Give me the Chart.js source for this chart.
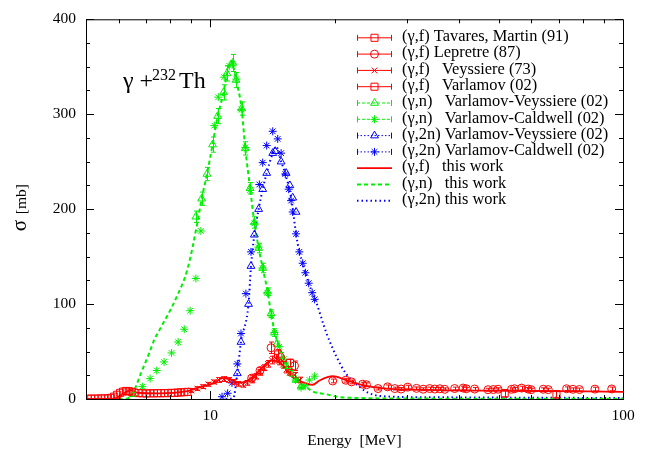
<!DOCTYPE html>
<html>
<head>
<meta charset="utf-8">
<script src="https://cdn.jsdelivr.net/npm/chart.js@4.4.1/dist/chart.umd.min.js"></script>
<style>
  html, body { margin: 0; padding: 0; background: #fff; }
  #wrap { width: 650px; height: 450px; }
</style>
</head>
<body>
<div id="wrap"><canvas id="xsChart" width="650" height="450"></canvas></div>
<script>
// ---- measured data: photon energy (MeV), cross section (mb), error (mb) ----
const tavaresE   = [14.6, 15.6, 51.7, 69.0];
const tavaresXS  = [47, 38, 6, 5];
const tavaresErr = [5, 4, 4, 4];

const lepretreE  = [12.6, 13.2, 14.04, 14.8, 16.0, 19.8, 21.3, 22.0, 23.4, 23.9, 25.5, 26.9, 28.0, 29.0, 30.1,
                    31.6, 32.8, 34.0, 35.0, 36.0, 37.0, 39.1, 41.0, 41.7, 43.7, 47.1, 48.5, 49.8, 53.7, 54.6,
                    56.8, 58.9, 59.9, 64.1, 65.9, 73.0, 75.6, 78.4, 85.5, 93.9];
const lepretreXS = [22, 30, 54, 44, 35, 19, 19.8, 18, 15.6, 15, 11, 12.8, 11, 10.5, 12.5,
                    11.2, 10.3, 11, 10.5, 10.8, 10.2, 11, 11.5, 10.8, 10.5, 9.8, 10, 10.3, 10.2, 10.8,
                    11.5, 10.5, 9.8, 10.3, 9.9, 10.8, 10.2, 10, 10.4, 10.6];
const lepretreErr = [3, 3, 6, 5, 5, 2, 2, 2, 2, 2, 1.5, 2, 1.5, 1.5, 2,
                     1.5, 1.5, 1.5, 1.5, 1.5, 1.5, 1.5, 2, 1.5, 1.5, 1.5, 1.5, 1.5, 1.5, 1.5,
                     2, 1.5, 1.5, 1.5, 1.5, 2, 1.5, 1.5, 2, 2];

const veyssiereE  = [9.0, 9.3, 9.6, 9.9, 10.2, 10.5, 10.8, 11.1, 11.4, 11.7, 12.0, 12.3, 12.6, 12.9, 13.2,
                     13.5, 13.8, 14.1, 14.4, 14.7, 15.0, 15.3, 15.6, 16.0, 16.5];
const veyssiereXS = [9, 11, 13, 15.5, 18, 20, 21, 20, 18, 16, 15, 17, 20, 24, 28,
                     33, 37, 41, 43, 40, 36, 31, 28, 25, 20];
const veyssiereErr = [2, 2, 2, 2, 2, 2.5, 2.5, 2.5, 2.5, 2.5, 2.5, 2.5, 3, 3, 3,
                      3, 3.5, 4, 4, 4, 3.5, 3.5, 3, 3, 3];

const varlamovFE  = [5.05, 5.15, 5.25, 5.35, 5.45, 5.55, 5.65, 5.75, 5.85, 5.95, 6.05, 6.15, 6.25, 6.35, 6.45,
                     6.55, 6.7, 6.85, 7.0, 7.15, 7.3, 7.45, 7.6, 7.75, 7.9, 8.05, 8.2, 8.35, 8.5, 8.65, 8.8];
const varlamovFXS = [0.3, 0.4, 0.3, 0.5, 0.6, 0.5, 0.8, 1.2, 2.5, 4.5, 6.5, 7.8, 8.5, 8.2, 7.5,
                     6.8, 6.2, 6.0, 5.8, 6.1, 5.9, 6.2, 6.0, 6.3, 6.1, 6.5, 6.4, 6.8, 7.0, 7.2, 7.5];

const gnVeyE  = [6.5, 9.23, 9.53, 9.82, 10.13, 10.42, 10.77, 10.98, 11.33, 11.55, 11.91, 12.16, 12.49, 12.79, 13.10,
                 13.40, 13.77, 14.04, 14.30, 14.50, 14.85, 15.27, 15.70, 16.14, 16.60];
const gnVeyXS = [5, 192, 211, 237, 268, 298, 323, 343, 354, 336, 306, 264, 222, 186, 159,
                 138, 113, 90, 70, 58, 46, 35, 27, 20, 13];
const gnVeyErr = [2, 6, 7, 7, 8, 8, 8, 8, 9, 8, 7, 7, 6, 6, 5,
                  5, 4, 4, 4, 3, 3, 3, 3, 2, 2];

const gnCalE  = [6.85, 7.15, 7.42, 7.73, 8.06, 8.36, 8.65, 8.94, 9.23, 9.49, 10.23, 10.46, 10.81, 11.12, 11.33,
                 11.57, 11.89, 12.16, 12.49, 12.79, 13.08, 13.38, 13.75, 14.04, 14.3, 14.7, 15.1, 15.6, 16.1, 16.6,
                 17.0, 17.4, 17.9];
const gnCalXS = [13, 21.5, 30, 39, 48.5, 60, 73.5, 93, 127, 177, 288, 318, 339, 351, 353,
                 337, 305, 265, 220, 185, 160, 138, 112, 88, 70, 55, 42, 30, 20, 12,
                 14, 20, 24];

const g2nVeyE  = [11.63, 11.87, 12.38, 12.55, 12.79, 13.10, 13.40, 13.70, 14.17, 14.37, 14.85, 15.27, 15.59, 15.84, 16.14];
const g2nVeyXS = [27, 60, 100, 140, 173, 200, 221, 238, 259, 261, 250, 238, 225, 212, 197];

const g2nCalE  = [10.68, 11.02, 11.29, 11.63, 11.87, 12.2, 12.55, 13.15, 13.40, 13.70, 14.17, 14.57, 14.85, 15.2, 15.49,
                  15.70, 15.84, 16.14, 16.44, 16.75, 17.0, 17.32, 17.66, 17.9];
const g2nCalXS = [2.4, 6, 17, 37, 69, 111, 155, 226, 249, 267, 282, 274, 259, 237, 221,
                  209, 197, 174, 155, 143, 133, 122, 112, 105];

// ---- calculated curves ("this work") ----
const fitFE  = [5, 5.85, 6.18, 6.42, 6.66, 7.52, 8.73, 8.98, 9.49, 10.23, 10.71, 11.2, 11.76, 12.67, 13.40,
                14.04, 14.85, 15.84, 17.23, 17.7, 18.39, 19.8, 21.3, 23, 26, 36, 52.2, 100];
const fitFXS = [0, 0.5, 6, 9.4, 6.6, 6, 8, 9.4, 12.8, 17, 22, 20.5, 17, 23, 33.6,
                40.6, 37, 23, 16, 15, 19.5, 24, 20, 15.5, 11.5, 9.4, 8.7, 7.6];

const fitNE  = [6.0, 6.30, 6.54, 6.79, 7.11, 7.31, 7.52, 8.26, 8.81, 9.31, 9.53, 9.82, 10.13, 10.42, 10.77,
                10.98, 11.24, 11.55, 11.91, 12.16, 12.49, 12.79, 13.10, 13.40, 13.77, 14.04, 14.30, 14.70, 15.27, 15.84,
                17.07, 17.7, 19.1, 20.2, 23, 30, 50, 100];
const fitNXS = [0, 0.5, 9, 27, 48, 62, 72, 106, 137, 186, 211, 237, 268, 298, 323,
                343, 356, 336, 306, 264, 222, 186, 159, 138, 113, 90, 72, 54, 37, 23,
                12.8, 8, 5, 2.5, 1, 0.5, 0.3, 0.2];

const fit2NE  = [10.9, 11.37, 11.63, 11.87, 12.38, 12.55, 12.79, 13.10, 13.40, 13.70, 14.17, 14.44, 14.85, 15.2, 15.70,
                 16.14, 16.44, 16.75, 17.32, 18.06, 19.1, 20.2, 21.3, 23.0, 24.3, 27.2, 35, 50, 100];
const fit2NXS = [0, 1, 27, 60, 100, 139, 173, 200, 221, 238, 259, 266, 250, 237, 212,
                 174, 155, 143, 122, 102, 70, 45, 27, 12.8, 6, 2.5, 1.8, 1.5, 1];

const RED = '#ff0000', GREEN = '#00ee00', BLUE = '#0000ff';
const SERIF = '"Liberation Serif", "DejaVu Serif", serif';

function pairs(xs, ys) {
    return xs.map((x, i) => ({ x: x, y: ys[i] }));
}

function points(label, xs, ys, errs, color, style, radius, dash) {
    return {
        label: label,
        data: pairs(xs, ys),
        errors: errs,
        showLine: false,
        pointStyle: style,
        pointRadius: radius,
        pointBorderWidth: 1,
        borderColor: color,
        backgroundColor: 'rgba(0,0,0,0)',
        sample: { dash: dash, bars: true }
    };
}

function curve(label, xs, ys, color, dash, width) {
    return {
        label: label,
        data: pairs(xs, ys),
        showLine: true,
        pointRadius: 0,
        borderColor: color,
        borderWidth: width,
        borderDash: dash,
        cubicInterpolationMode: 'monotone',
        sample: { dash: dash, bars: false, width: width }
    };
}

const datasets = [
    points('(γ,f) Tavares, Martin (91)', tavaresE, tavaresXS, tavaresErr, RED, 'rect', 5, []),
    points('(γ,f) Lepretre (87)', lepretreE, lepretreXS, lepretreErr, RED, 'circle', 4, []),
    points('(γ,f)   Veyssiere (73)', veyssiereE, veyssiereXS, veyssiereErr, RED, 'crossRot', 4, []),
    points('(γ,f)   Varlamov (02)', varlamovFE, varlamovFXS, null, RED, 'rect', 5, []),
    points('(γ,n)   Varlamov-Veyssiere (02)', gnVeyE, gnVeyXS, gnVeyErr, GREEN, 'triangle', 4.5, [3, 2]),
    points('(γ,n)   Varlamov-Caldwell (02)', gnCalE, gnCalXS, null, GREEN, 'star', 4, [3, 2]),
    points('(γ,2n) Varlamov-Veyssiere (02)', g2nVeyE, g2nVeyXS, null, BLUE, 'triangle', 4.5, [1.5, 2]),
    points('(γ,2n) Varlamov-Caldwell (02)', g2nCalE, g2nCalXS, null, BLUE, 'star', 4, [1.5, 2]),
    curve('(γ,f)   this work', fitFE, fitFXS, RED, [], 1.8),
    curve('(γ,n)   this work', fitNE, fitNXS, GREEN, [4, 3], 2),
    curve('(γ,2n) this work', fit2NE, fit2NXS, BLUE, [1.5, 3], 2)
];

function marker(ctx, ds, x, y) {
    const opts = { pointStyle: ds.pointStyle, radius: ds.pointRadius, rotation: 0, borderWidth: 1 };
    ctx.strokeStyle = ds.borderColor;
    ctx.fillStyle = 'rgba(0,0,0,0)';
    ctx.lineWidth = 1;
    ctx.setLineDash([]);
    Chart.helpers.drawPoint(ctx, opts, x, y);
}

// vertical error bars with small caps
const errorBarPlugin = {
    id: 'errorBars',
    afterDatasetsDraw(chart) {
        const { ctx, scales: { x, y } } = chart;
        ctx.save();
        ctx.lineWidth = 1;
        ctx.setLineDash([]);
        chart.data.datasets.forEach(ds => {
            if (!ds.errors) return;
            ctx.strokeStyle = ds.borderColor;
            ctx.beginPath();
            ds.data.forEach((p, i) => {
                const px = Math.round(x.getPixelForValue(p.x)) + 0.5;
                const y0 = y.getPixelForValue(Math.max(0, p.y - ds.errors[i]));
                const y1 = y.getPixelForValue(p.y + ds.errors[i]);
                ctx.moveTo(px, y0); ctx.lineTo(px, y1);
                ctx.moveTo(px - 2.5, y0); ctx.lineTo(px + 2.5, y0);
                ctx.moveTo(px - 2.5, y1); ctx.lineTo(px + 2.5, y1);
            });
            ctx.stroke();
        });
        ctx.restore();
    }
};

const framePlugin = {
    id: 'frame',
    afterDraw(chart) {
        const { ctx, chartArea: a, scales: { x, y } } = chart;
        ctx.save();

        // frame and inward ticks on all four sides
        ctx.strokeStyle = '#000';
        ctx.lineWidth = 1;
        ctx.setLineDash([]);
        ctx.strokeRect(a.left + 0.5, a.top + 0.5, a.right - a.left, a.bottom - a.top);
        ctx.beginPath();
        for (let v = 0; v <= 400; v += 25) {
            const py = Math.round(y.getPixelForValue(v)) + 0.5;
            const len = v % 100 === 0 ? 8 : 4;
            ctx.moveTo(a.left, py); ctx.lineTo(a.left + len, py);
            ctx.moveTo(a.right, py); ctx.lineTo(a.right - len, py);
        }
        const xt = [5, 6, 7, 8, 9, 10, 20, 30, 40, 50, 60, 70, 80, 90];
        xt.forEach(v => {
            const px = Math.round(x.getPixelForValue(v)) + 0.5;
            const len = (v === 10) ? 8 : 4;
            ctx.moveTo(px, a.bottom); ctx.lineTo(px, a.bottom - len);
            ctx.moveTo(px, a.top); ctx.lineTo(px, a.top + len);
        });
        ctx.stroke();

        ctx.fillStyle = '#000';
        ctx.textAlign = 'left';
        ctx.textBaseline = 'alphabetic';

        // y axis title, rotated
        ctx.save();
        ctx.translate(26, (a.top + a.bottom) / 2 + 22);
        ctx.rotate(-Math.PI / 2);
        ctx.font = '21px ' + SERIF;
        ctx.fillText('σ', 0, 0);
        ctx.font = '15.5px ' + SERIF;
        ctx.fillText('[mb]', 17, 0);
        ctx.restore();

        // reaction label
        const lx = a.left + 37, ly = a.top + 69;
        ctx.font = '24px ' + SERIF;
        ctx.fillText('γ +', lx, ly);
        ctx.font = '16px ' + SERIF;
        ctx.fillText('232', lx + 29, ly - 8);
        ctx.font = '24px ' + SERIF;
        ctx.fillText('Th', lx + 56, ly);

        // key
        const kx0 = a.right - 266, kx1 = a.right - 231, tx = a.right - 221;
        const ky0 = a.top + 18.5, dy = 16.3;
        chart.data.datasets.forEach((ds, i) => {
            const ky = ky0 + i * dy;
            const s = ds.sample;
            ctx.strokeStyle = ds.borderColor;
            ctx.lineWidth = s.width || 1;
            ctx.setLineDash(s.dash);
            ctx.beginPath();
            ctx.moveTo(kx0, ky); ctx.lineTo(kx1, ky);
            ctx.stroke();
            if (s.bars) {
                ctx.setLineDash([]);
                ctx.lineWidth = 1;
                ctx.beginPath();
                ctx.moveTo(kx0 + 0.5, ky - 3); ctx.lineTo(kx0 + 0.5, ky + 3);
                ctx.moveTo(kx1 - 0.5, ky - 3); ctx.lineTo(kx1 - 0.5, ky + 3);
                ctx.stroke();
                marker(ctx, ds, (kx0 + kx1) / 2, ky);
            }
            ctx.setLineDash([]);
            ctx.fillStyle = '#000';
            ctx.font = '16.4px ' + SERIF;
            ctx.textBaseline = 'middle';
            ctx.fillText(ds.label, tx, ky - 1);
        });
        ctx.restore();
    }
};

new Chart(document.getElementById('xsChart'), {
    type: 'scatter',
    data: { datasets: datasets },
    options: {
        responsive: false,
        animation: false,
        layout: { padding: { top: 15, right: 27, left: 0, bottom: 0 } },
        plugins: {
            legend: { display: false },
            tooltip: { enabled: false }
        },
        scales: {
            x: {
                type: 'logarithmic',
                min: 5,
                max: 100,
                grid: { display: false, drawTicks: false },
                border: { display: false },
                ticks: {
                    autoSkip: false,
                    maxRotation: 0,
                    padding: 8,
                    color: '#000',
                    font: { family: SERIF, size: 15.5 },
                    callback: function (v) {
                        return (Math.abs(v - 10) < 1e-6 || Math.abs(v - 100) < 1e-6) ? String(Math.round(v)) : '';
                    }
                },
                title: {
                    display: true,
                    text: 'Energy  [MeV]',
                    color: '#000',
                    font: { family: SERIF, size: 15.5 },
                    padding: { top: 3, bottom: 0 }
                },
                afterFit: function (s) { s.height = 51; }
            },
            y: {
                min: 0,
                max: 400,
                grid: { display: false, drawTicks: false },
                border: { display: false },
                ticks: {
                    stepSize: 100,
                    padding: 10,
                    color: '#000',
                    font: { family: SERIF, size: 15.5 }
                },
                afterFit: function (s) { s.width = 86; }
            }
        }
    },
    plugins: [errorBarPlugin, framePlugin]
});
</script>
</body>
</html>
